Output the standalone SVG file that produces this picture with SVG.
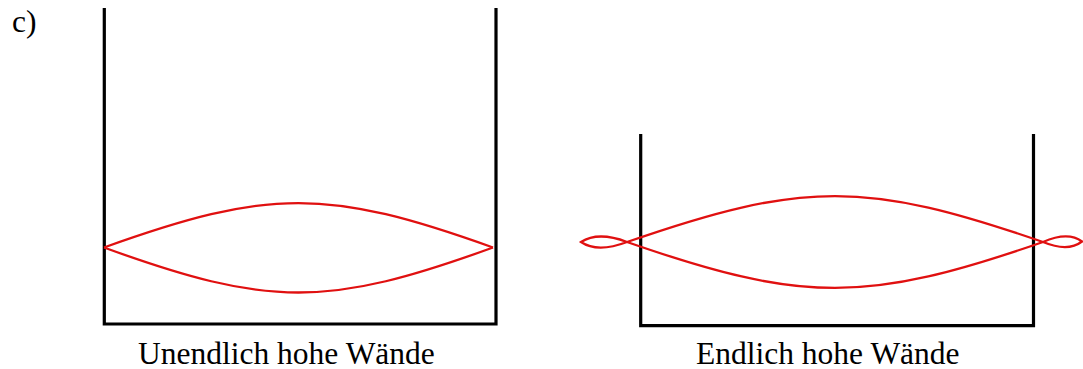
<svg xmlns="http://www.w3.org/2000/svg" width="1083" height="369" viewBox="0 0 1083 369">
<style>
.wall{fill:none;stroke:#000;stroke-width:3.2;stroke-linejoin:miter}
.wave{fill:none;stroke:#e01010;stroke-width:2.3}
.lbl{font-family:"Liberation Serif","Times New Roman",serif;font-size:31.5px;fill:#000}
</style>
<rect width="1083" height="369" fill="#fff"/>
<text class="lbl" x="12" y="32">c)</text>
<g id="box-infinite">
<path class="wall" d="M104.3,8 V324 H496 V8"/>
<path class="wave" d="M104,247.5 C269.1,188.2 327.9,188.2 493,247.5"/>
<path class="wave" d="M104,247.5 C269.1,307.5 327.9,307.5 493,247.5"/>
<text class="lbl" x="138" y="364">Unendlich hohe Wände</text>
</g>
<g id="box-finite">
<path class="wall" d="M640.7,134 V325.7 H1033.5 V134"/>
<path class="wave" d="M627,242 C803.6,180.7 866.4,180.7 1043,242"/>
<path class="wave" d="M627,242 C803.6,303.3 866.4,303.3 1043,242"/>
<path class="wave" d="M627,242 C606,250 592,249.5 581,242 C592,235 606,234 627,242"/>
<path class="wave" d="M1043,242 C1060,234.6 1073,234.8 1082,241.5 C1073,248.5 1060,249 1043,242"/>
<text class="lbl" x="696" y="364">Endlich hohe Wände</text>
</g>
</svg>
